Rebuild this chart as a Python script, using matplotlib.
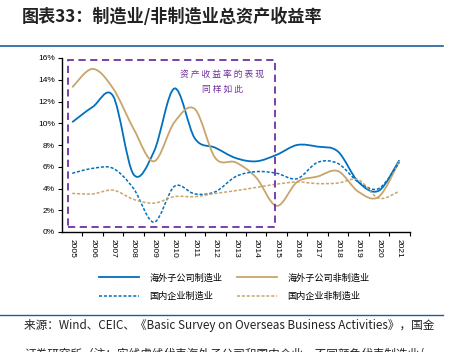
import numpy as np
import matplotlib
matplotlib.use("Agg")
import matplotlib.pyplot as plt
from matplotlib.path import Path
from matplotlib.patches import PathPatch, Rectangle
from matplotlib.lines import Line2D

plt.rcParams['font.family'] = ['Liberation Sans', 'Noto Sans CJK SC', 'DejaVu Sans']

years = [str(y) for y in range(2005, 2022)]
overseas_mfg = [10.1, 11.5, 12.5, 5.3, 7.4, 13.2, 8.6, 7.75, 6.8, 6.5, 7.1, 8.0, 7.85, 7.4, 4.6, 3.8, 6.6]
overseas_nonmfg = [13.3, 15.0, 13.2, 9.5, 6.5, 10.1, 11.3, 6.8, 6.4, 5.0, 2.4, 4.6, 5.1, 5.6, 3.7, 3.25, 6.5]
domestic_mfg = [5.4, 5.85, 5.85, 4.0, 0.9, 4.2, 3.5, 3.7, 5.1, 5.55, 5.4, 4.9, 6.4, 6.3, 4.6, 4.0, 6.4]
domestic_nonmfg = [3.55, 3.5, 3.85, 3.0, 2.65, 3.25, 3.25, 3.55, 3.8, 4.1, 4.4, 4.6, 4.45, 4.5, 4.8, 3.1, 3.75]
yticks = [0, 2, 4, 6, 8, 10, 12, 14, 16]

BLUE = '#0070C0'
TAN = '#C8A56A'
PURPLE = '#7030A0'
CJK = ['Noto Sans CJK SC', 'DejaVu Sans']

W, H = 453, 352
fig = plt.figure(figsize=(W / 100, H / 100), dpi=100)
ax = fig.add_axes([62 / W, (H - 232) / H, (409.5 - 62) / W, (232 - 58) / H])


def smooth_path(xs, ys):
    P = np.column_stack([xs, ys]).astype(float)
    n = len(P)
    verts = [P[0]]
    codes = [Path.MOVETO]
    for i in range(n - 1):
        p0 = P[i - 1] if i > 0 else P[i]
        p1 = P[i]
        p2 = P[i + 1]
        p3 = P[i + 2] if i + 2 < n else P[i + 1]
        c1 = p1 + (p2 - p0) / 6.0
        c2 = p2 - (p3 - p1) / 6.0
        verts += [c1, c2, p2]
        codes += [Path.CURVE4] * 3
    return Path(verts, codes)


DASH = (0, (2.0, 1.2))
x = np.arange(len(years))
series = [
    (overseas_mfg, BLUE, '-', 1.3),
    (overseas_nonmfg, TAN, '-', 1.3),
    (domestic_mfg, BLUE, DASH, 1.1),
    (domestic_nonmfg, TAN, DASH, 1.1),
]
for vals, col, ls, lw in series:
    pp = PathPatch(smooth_path(x, vals), facecolor='none', edgecolor=col,
                   linestyle=ls, linewidth=lw, zorder=3)
    ax.add_patch(pp)

ax.set_xlim(-0.5, len(years) - 0.5)
ax.set_ylim(0, 16)
ax.set_yticks(yticks)
ax.set_yticklabels([f'{v}%' for v in yticks], fontsize=6)
ax.set_xticks(x)
ax.set_xticklabels(years, rotation=270, fontsize=6)
ax.tick_params(axis='x', which='major', length=0, pad=5)
ax.set_xticks(np.arange(0.5, len(years), 1.0), minor=True)
ax.tick_params(axis='x', which='minor', length=3, width=0.8, direction='out')
ax.tick_params(axis='y', length=3, width=0.8, pad=2)
for s in ['top', 'right']:
    ax.spines[s].set_visible(False)
for s in ['left', 'bottom']:
    ax.spines[s].set_linewidth(1.0)
    ax.spines[s].set_color('black')

# purple dashed highlight box
rect = Rectangle((-0.19, 0.49), 10.09, 15.36, facecolor='none', edgecolor=PURPLE,
                 linestyle=(0, (4, 2.5)), linewidth=1.3, zorder=4, clip_on=False)
ax.add_patch(rect)
ax.text(7.35, 14.5, '资 产 收 益 率 的 表 现', color=PURPLE, fontsize=6.3,
        ha='center', va='center', family=CJK)
ax.text(7.35, 13.1, '同 样 如 此', color=PURPLE, fontsize=6.3,
        ha='center', va='center', family=CJK)

# title and rules
fig.text(22 / W, 1 - 17 / H, '图表33：制造业/非制造业总资产收益率', fontsize=12.3,
         fontweight='bold', color='#222222', ha='left', va='center', family=CJK,
         style='italic')
fig.add_artist(Line2D([0, 443 / W], [1 - 45.5 / H] * 2, color='#1F5C99', linewidth=1.2))
fig.add_artist(Line2D([0, 443 / W], [1 - 315 / H] * 2, color='#1F5C99', linewidth=1.0))

# legend
handles = [
    Line2D([], [], color=BLUE, linestyle='-', linewidth=1.3),
    Line2D([], [], color=BLUE, linestyle=DASH, linewidth=1.1),
    Line2D([], [], color=TAN, linestyle='-', linewidth=1.3),
    Line2D([], [], color=TAN, linestyle=DASH, linewidth=1.1),
]
labels = ['海外子公司制造业', '国内企业制造业', '海外子公司非制造业', '国内企业非制造业']
leg = fig.legend(handles, labels, ncol=2, loc='center left', bbox_to_anchor=(99 / W, 1 - 287 / H),
                 frameon=False, prop={'family': CJK, 'size': 6.6}, handlelength=4.4,
                 columnspacing=1.6, handletextpad=1.1, labelspacing=1.0,
                 borderpad=0, borderaxespad=0)

# source note
fig.text(24 / W, 1 - 325 / H,
         '来源：Wind、CEIC、《Basic Survey on Overseas Business Activities》，国金',
         fontsize=8.4, ha='left', va='center', family=CJK, color='#222222')
fig.text(24 / W, 1 - 355 / H,
         '证券研究所（注：实线虚线代表海外子公司和国内企业，不同颜色代表制造业/',
         fontsize=8.4, ha='left', va='center', family=CJK, color='#222222')

fig.savefig('out.png', dpi=100)
